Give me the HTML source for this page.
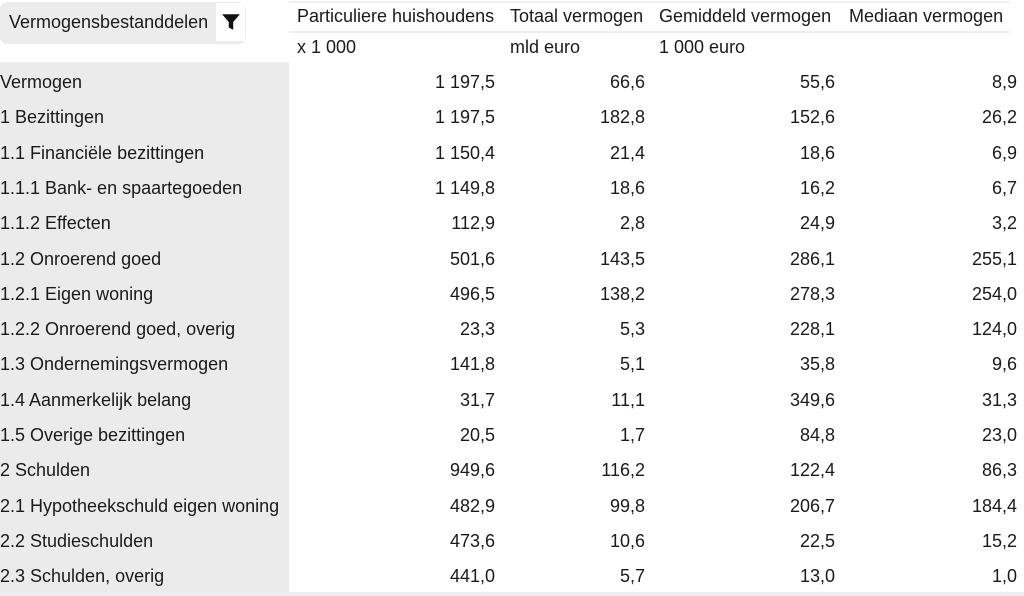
<!DOCTYPE html>
<html><head><meta charset="utf-8"><style>
body{margin:0;width:1024px;height:596px;background:#fff;position:relative;overflow:hidden;font-family:"Liberation Sans",sans-serif;font-size:18px;color:#1a1a1a}
.a{position:absolute;white-space:nowrap;line-height:20px}
.r{text-align:right}
</style></head><body>
<div class="a" style="left:0;top:62px;width:289px;height:530px;background:#ebebeb"></div>
<div class="a" style="left:0;top:592px;width:1024px;height:4px;background:#eeeeee"></div>
<div class="a" style="left:289px;top:1px;width:721px;height:2px;background:#efefef"></div>
<div class="a" style="left:289px;top:31px;width:721px;height:2px;background:#efefef"></div>
<div class="a" style="left:0;top:2px;width:246px;height:42px;background:#ececec;border-radius:7px"></div>
<div class="a" style="left:216px;top:3px;width:29px;height:38px;background:#fff"></div>
<svg class="a" style="left:221px;top:12px" width="20" height="20" viewBox="0 0 18 18"><path d="M1 2h16l-6 7v7l-4-2v-5z" fill="#111"/></svg>
<div class="a" style="left:9px;top:12px">Vermogensbestanddelen</div>
<div class="a" style="left:297px;top:6px">Particuliere huishoudens</div>
<div class="a" style="left:510px;top:6px">Totaal vermogen</div>
<div class="a" style="left:659px;top:6px">Gemiddeld vermogen</div>
<div class="a" style="left:849px;top:6px">Mediaan vermogen</div>
<div class="a" style="left:297px;top:37px">x 1 000</div>
<div class="a" style="left:510px;top:37px">mld euro</div>
<div class="a" style="left:659px;top:37px">1 000 euro</div>
<div id="rows"></div>
<script>
var d=[["Vermogen","1 197,5","66,6","55,6","8,9"],["1 Bezittingen","1 197,5","182,8","152,6","26,2"],["1.1 Financiële bezittingen","1 150,4","21,4","18,6","6,9"],["1.1.1 Bank- en spaartegoeden","1 149,8","18,6","16,2","6,7"],["1.1.2 Effecten","112,9","2,8","24,9","3,2"],["1.2 Onroerend goed","501,6","143,5","286,1","255,1"],["1.2.1 Eigen woning","496,5","138,2","278,3","254,0"],["1.2.2 Onroerend goed, overig","23,3","5,3","228,1","124,0"],["1.3 Ondernemingsvermogen","141,8","5,1","35,8","9,6"],["1.4 Aanmerkelijk belang","31,7","11,1","349,6","31,3"],["1.5 Overige bezittingen","20,5","1,7","84,8","23,0"],["2 Schulden","949,6","116,2","122,4","86,3"],["2.1 Hypotheekschuld eigen woning","482,9","99,8","206,7","184,4"],["2.2 Studieschulden","473,6","10,6","22,5","15,2"],["2.3 Schulden, overig","441,0","5,7","13,0","1,0"]];
var R=[495,645,835,1017],h="";
d.forEach(function(r,i){var t=72+i*35.3;
h+='<div class="a" style="left:0;top:'+t+'px">'+r[0]+'</div>';
for(var j=1;j<5;j++)h+='<div class="a r" style="left:'+(R[j-1]-150)+'px;width:150px;top:'+t+'px">'+r[j]+'</div>';});
document.getElementById("rows").innerHTML=h;
</script>
</body></html>
